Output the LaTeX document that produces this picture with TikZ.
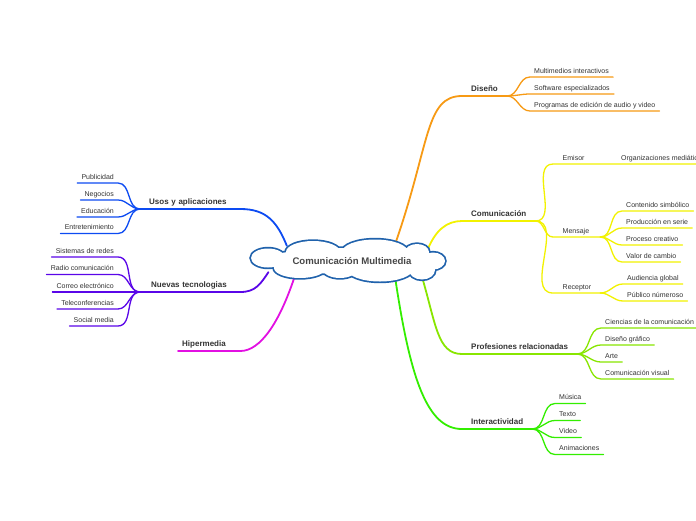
\documentclass[tikz,border=0pt]{standalone}
\usepackage{fontspec}
\setmainfont{Liberation Sans}
\usetikzlibrary{shapes.geometric, backgrounds}
\definecolor{txtgray}{HTML}{333333}
\definecolor{cloudblue}{HTML}{2062AC}
\definecolor{disenyo}{HTML}{F79A14}
\definecolor{comunic}{HTML}{F2F200}
\definecolor{profes}{HTML}{88E600}
\definecolor{interac}{HTML}{33EE00}
\definecolor{usos}{HTML}{0D4BF2}
\definecolor{nuevas}{HTML}{5A06E8}
\definecolor{hiper}{HTML}{E210E2}

% lobes of the central cloud, relative to its centre
\newcommand{\cloudlobes}{(-80,3) ellipse (17 and 9.5)
  (-35,9) ellipse (27 and 11) (27,9) ellipse (33 and 12.5) (69,9) ellipse (12 and 8)
  (85,0) ellipse (12 and 8.5)
  (-48,-7) ellipse (26 and 10) (-8,-7) ellipse (18 and 10)
  (32,-8) ellipse (33 and 12.5) (74,-9) ellipse (13 and 9.5)
  (0,0) ellipse (84 and 13)}

\begin{document}
\begin{tikzpicture}[
    x=1pt, y=1pt,
    topic/.style={font=\fontsize{8}{9}\selectfont\bfseries, text=txtgray, inner xsep=9pt, inner ysep=0pt, text depth=4.2pt},
    sub/.style={font=\fontsize{7}{8}\selectfont, text=txtgray, inner xsep=4pt, inner ysep=0pt, text depth=3.7pt},
    mid/.style={sub, inner xsep=9.5pt, text width=28pt, align=left},
    branch/.style={line width=1.8pt, line cap=round},
    twig/.style={line width=1.3pt, line cap=round},
]
\useasboundingbox (0,0) rectangle (696,-520);

% Central idea
\node[ellipse, minimum width=193pt, minimum height=39pt, inner sep=0pt,
      font=\fontsize{9.6}{11}\selectfont\bfseries, text=black!72] (cloud) at (348,-261) {\raisebox{-2pt}{\hspace{8pt}Comunicación Multimedia}};

% Diseño
\node[topic, anchor=south west] (dis) at (462,-96) {Diseño};
\node[sub, anchor=south west] (multi) at (530,-77) {Multimedios interactivos};
\node[sub, anchor=south west] (soft) at (530,-94) {Software especializados};
\node[sub, anchor=south west] (prog) at (530,-111) {Programas de edición de audio y video};

% Comunicación
\node[topic, anchor=south west] (com) at (462,-221) {Comunicación};
\node[mid, anchor=south west] (emisor) at (553,-164) {Emisor};
\node[sub, anchor=south west] (org) at (617,-164) {Organizaciones mediáticas};
\node[mid, anchor=south west] (mensaje) at (553,-237) {Mensaje};
\node[sub, anchor=south west] (simb) at (622,-211) {Contenido simbólico};
\node[sub, anchor=south west] (serie) at (622,-228) {Producción en serie};
\node[sub, anchor=south west] (creat) at (622,-245) {Proceso creativo};
\node[sub, anchor=south west] (valor) at (622,-262) {Valor de cambio};
\node[mid, anchor=south west] (receptor) at (553,-293) {Receptor};
\node[sub, anchor=south west] (global) at (623,-284) {Audiencia global};
\node[sub, anchor=south west] (publico) at (623,-301) {Público númeroso};

% Profesiones relacionadas
\node[topic, anchor=south west] (prof) at (462,-354) {Profesiones relacionadas};
\node[sub, anchor=south west] (ciencias) at (601,-328) {Ciencias de la comunicación};
\node[sub, anchor=south west] (grafico) at (601,-345) {Diseño gráfico};
\node[sub, anchor=south west] (arte) at (601,-362) {Arte};
\node[sub, anchor=south west] (visual) at (601,-379) {Comunicación visual};

% Interactividad
\node[topic, anchor=south west] (inter) at (462,-429) {Interactividad};
\node[sub, anchor=south west] (musica) at (555,-403.5) {Música};
\node[sub, anchor=south west] (texto) at (555,-420.5) {Texto};
\node[sub, anchor=south west] (video) at (555,-437.5) {Video};
\node[sub, anchor=south west] (anim) at (555,-454.5) {Animaciones};

% Usos y aplicaciones
\node[topic, anchor=south west, text width=82pt] (usos) at (140,-209) {Usos y aplicaciones};
\node[sub, anchor=south east] (publi) at (118,-183) {Publicidad};
\node[sub, anchor=south east] (nego) at (118,-200) {Negocios};
\node[sub, anchor=south east] (educ) at (118,-217) {Educación};
\node[sub, anchor=south east] (entre) at (118,-233.5) {Entretenimiento};

% Nuevas tecnologías
\node[topic, anchor=south west, inner xsep=11pt, text width=78pt] (nuevas) at (140,-292) {Nuevas tecnologias};
\node[sub, anchor=south east] (redes) at (118,-257) {Sistemas de redes};
\node[sub, anchor=south east] (radio) at (118,-274.5) {Radio comunicación};
\node[sub, anchor=south east] (correo) at (118,-292) {Correo electrónico};
\node[sub, anchor=south east] (tele) at (118,-309) {Teleconferencias};
\node[sub, anchor=south east] (social) at (118,-326) {Social media};

% Hipermedia
\node[topic, anchor=south west, inner xsep=4pt, text width=54pt] (hiper) at (178,-351) {Hipermedia};

\begin{scope}[on background layer]
\fill[white] (0,0) rectangle (696,-520);

% Branches out of the cloud
\draw[branch, disenyo] (cloud.20) .. controls +(35,100) and +(-37,0) .. (dis.south west) -- (dis.south east);
\draw[branch, comunic] (cloud.8) .. controls +(8,20) and +(-15,0) .. (com.south west) -- (com.south east);
\draw[branch, profes] (cloud.-10) .. controls +(15,-50) and +(-25,0) .. (prof.south west) -- (prof.south east);
\draw[branch, interac] (cloud.-20) .. controls +(15,-100) and +(-35,0) .. (inter.south west) -- (inter.south east);
\draw[branch, usos] (cloud.166) .. controls +(-10,25) and +(25,0) .. (usos.south east) -- (usos.south west);
\draw[branch, nuevas] (cloud.188) .. controls +(-8,-12) and +(15,0) .. (nuevas.south east) -- (nuevas.south west);
\draw[branch, hiper] (cloud.197) .. controls +(-15,-45) and +(20,0) .. (hiper.south east) -- (hiper.south west);

% Cloud outline: stroke all lobes, then fill them over
\fill[white, shift={(cloud.center)}, preaction={draw=cloudblue, line width=3.4pt}] \cloudlobes;

% Diseño twigs
\draw[twig, disenyo] (dis.south east) to[out=0, in=180] (multi.south west) -- (multi.south east);
\draw[twig, disenyo] (dis.south east) to[out=0, in=180] (soft.south west) -- (soft.south east);
\draw[twig, disenyo] (dis.south east) to[out=0, in=180] (prog.south west) -- (prog.south east);

% Comunicación twigs
\draw[twig, comunic] (com.south east) to[out=0, in=180] (emisor.south west) -- (emisor.south east) -- (org.south west) -- (org.south east);
\draw[twig, comunic] (com.south east) to[out=0, in=180] (mensaje.south west) -- (mensaje.south east);
\draw[twig, comunic] (com.south east) to[out=0, in=180] (receptor.south west) -- (receptor.south east);
\draw[twig, comunic] (mensaje.south east) to[out=0, in=180] (simb.south west) -- (simb.south east);
\draw[twig, comunic] (mensaje.south east) to[out=0, in=180] (serie.south west) -- (serie.south east);
\draw[twig, comunic] (mensaje.south east) to[out=0, in=180] (creat.south west) -- (creat.south east);
\draw[twig, comunic] (mensaje.south east) to[out=0, in=180] (valor.south west) -- (valor.south east);
\draw[twig, comunic] (receptor.south east) to[out=0, in=180] (global.south west) -- (global.south east);
\draw[twig, comunic] (receptor.south east) to[out=0, in=180] (publico.south west) -- (publico.south east);

% Profesiones twigs
\draw[twig, profes] (prof.south east) to[out=0, in=180] (ciencias.south west) -- (ciencias.south east);
\draw[twig, profes] (prof.south east) to[out=0, in=180] (grafico.south west) -- (grafico.south east);
\draw[twig, profes] (prof.south east) to[out=0, in=180] (arte.south west) -- (arte.south east);
\draw[twig, profes] (prof.south east) to[out=0, in=180] (visual.south west) -- (visual.south east);

% Interactividad twigs
\draw[twig, interac] (inter.south east) to[out=0, in=180] (musica.south west) -- (musica.south east);
\draw[twig, interac] (inter.south east) to[out=0, in=180] (texto.south west) -- (texto.south east);
\draw[twig, interac] (inter.south east) to[out=0, in=180] (video.south west) -- (video.south east);
\draw[twig, interac] (inter.south east) to[out=0, in=180] (anim.south west) -- (anim.south east);

% Usos twigs
\draw[twig, usos] (usos.south west) to[out=180, in=0] (publi.south east) -- (publi.south west);
\draw[twig, usos] (usos.south west) to[out=180, in=0] (nego.south east) -- (nego.south west);
\draw[twig, usos] (usos.south west) to[out=180, in=0] (educ.south east) -- (educ.south west);
\draw[twig, usos] (usos.south west) to[out=180, in=0] (entre.south east) -- (entre.south west);

% Nuevas tecnologías twigs
\draw[twig, nuevas] (nuevas.south west) to[out=180, in=0] (redes.south east) -- (redes.south west);
\draw[twig, nuevas] (nuevas.south west) to[out=180, in=0] (radio.south east) -- (radio.south west);
\draw[twig, nuevas] (nuevas.south west) to[out=180, in=0] (correo.south east) -- (correo.south west);
\draw[twig, nuevas] (nuevas.south west) to[out=180, in=0] (tele.south east) -- (tele.south west);
\draw[twig, nuevas] (nuevas.south west) to[out=180, in=0] (social.south east) -- (social.south west);
\end{scope}

\end{tikzpicture}
\end{document}
